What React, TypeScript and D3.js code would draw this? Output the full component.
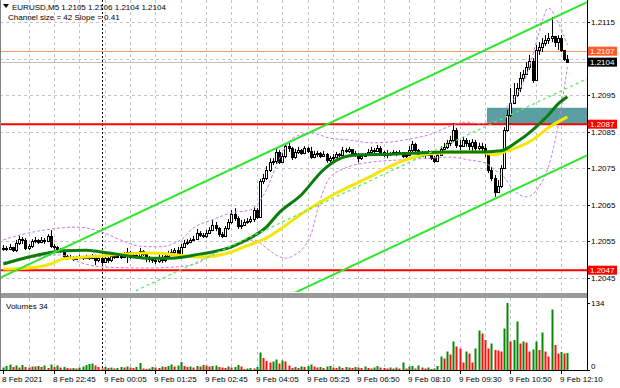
import React from 'react';
import * as d3 from 'd3';

// EURUSD M5, bar 0 = 8 Feb 21:25
const firstOpen = 1.20528;

const closes = [
  1.20531, 1.20528, 1.20534, 1.20525, 1.20544, 1.20555, 1.20553, 1.20531, 1.20536, 1.20550,
  1.20553, 1.20547, 1.20553, 1.20550, 1.20564, 1.20536, 1.20534, 1.20528, 1.20523, 1.20509,
  1.20503, 1.20506, 1.20501, 1.20503, 1.20506, 1.20503, 1.20506, 1.20503, 1.20509, 1.20498,
  1.20503, 1.20492, 1.20503, 1.20498, 1.20509, 1.20506, 1.20509, 1.20506, 1.20512, 1.20520,
  1.20506, 1.20512, 1.20509, 1.20523, 1.20514, 1.20503, 1.20501, 1.20498, 1.20495, 1.20506,
  1.20498, 1.20509, 1.20514, 1.20520, 1.20525, 1.20514, 1.20534, 1.20544, 1.20547, 1.20553,
  1.20555, 1.20572, 1.20566, 1.20564, 1.20572, 1.20580, 1.20594, 1.20586, 1.20569, 1.20564,
  1.20586, 1.20602, 1.20624, 1.20613, 1.20591, 1.20594, 1.20602, 1.20605, 1.20610, 1.20635,
  1.20616, 1.20714, 1.20723, 1.20745, 1.20766, 1.20769, 1.20794, 1.20766, 1.20783, 1.20810,
  1.20805, 1.20780, 1.20794, 1.20799, 1.20791, 1.20805, 1.20797, 1.20780, 1.20788, 1.20791,
  1.20783, 1.20788, 1.20772, 1.20777, 1.20780, 1.20788, 1.20786, 1.20799, 1.20797, 1.20802,
  1.20791, 1.20788, 1.20777, 1.20783, 1.20786, 1.20794, 1.20799, 1.20797, 1.20805, 1.20794,
  1.20786, 1.20791, 1.20788, 1.20794, 1.20788, 1.20794, 1.20783, 1.20786, 1.20799, 1.20816,
  1.20799, 1.20783, 1.20791, 1.20786, 1.20794, 1.20777, 1.20769, 1.20786, 1.20802, 1.20808,
  1.20819, 1.20827, 1.20854, 1.20813, 1.20810, 1.20827, 1.20819, 1.20810, 1.20821, 1.20805,
  1.20810, 1.20805, 1.20794, 1.20745, 1.20723, 1.20684, 1.20701, 1.20750, 1.20854, 1.20895,
  1.20928, 1.20950, 1.20969, 1.20997, 1.21008, 1.21027, 1.21043, 1.20991, 1.21073, 1.21082,
  1.21092, 1.21101, 1.21106, 1.21112, 1.21095, 1.21106, 1.21073, 1.21050, 1.21040
];

const highs = [
  1.20539, 1.20536, 1.20542, 1.20534, 1.20553, 1.20564, 1.20561, 1.20558, 1.20542, 1.20555,
  1.20561, 1.20555, 1.20561, 1.20558, 1.20569, 1.20580, 1.20542, 1.20536, 1.20531, 1.20525,
  1.20512, 1.20512, 1.20509, 1.20509, 1.20512, 1.20509, 1.20512, 1.20509, 1.20514, 1.20512,
  1.20509, 1.20512, 1.20509, 1.20506, 1.20514, 1.20514, 1.20517, 1.20512, 1.20520, 1.20531,
  1.20523, 1.20517, 1.20514, 1.20531, 1.20525, 1.20514, 1.20509, 1.20506, 1.20503, 1.20512,
  1.20512, 1.20517, 1.20523, 1.20528, 1.20531, 1.20534, 1.20542, 1.20553, 1.20555, 1.20558,
  1.20564, 1.20583, 1.20577, 1.20572, 1.20580, 1.20588, 1.20608, 1.20602, 1.20588, 1.20575,
  1.20591, 1.20610, 1.20635, 1.20640, 1.20618, 1.20608, 1.20610, 1.20613, 1.20618, 1.20643,
  1.20640, 1.20720, 1.20734, 1.20755, 1.20777, 1.20777, 1.20805, 1.20799, 1.20791, 1.20816,
  1.20821, 1.20808, 1.20802, 1.20808, 1.20802, 1.20810, 1.20808, 1.20808, 1.20797, 1.20797,
  1.20794, 1.20797, 1.20791, 1.20783, 1.20788, 1.20794, 1.20791, 1.20808, 1.20805, 1.20808,
  1.20799, 1.20797, 1.20791, 1.20788, 1.20791, 1.20802, 1.20808, 1.20805, 1.20813, 1.20810,
  1.20797, 1.20799, 1.20794, 1.20799, 1.20797, 1.20799, 1.20794, 1.20794, 1.20810, 1.20824,
  1.20819, 1.20802, 1.20797, 1.20794, 1.20799, 1.20797, 1.20783, 1.20794, 1.20810, 1.20819,
  1.20827, 1.20838, 1.20873, 1.20860, 1.20827, 1.20835, 1.20832, 1.20827, 1.20829, 1.20827,
  1.20819, 1.20819, 1.20816, 1.20794, 1.20753, 1.20731, 1.20717, 1.20758, 1.20862, 1.20909,
  1.20969, 1.20983, 1.20983, 1.21013, 1.21019, 1.21040, 1.21060, 1.21051, 1.21087, 1.21095,
  1.21106, 1.21114, 1.21120, 1.21164, 1.21112, 1.21114, 1.21114, 1.21073, 1.21060
];

const lows = [
  1.20523, 1.20523, 1.20525, 1.20520, 1.20520, 1.20539, 1.20542, 1.20525, 1.20525, 1.20531,
  1.20544, 1.20542, 1.20544, 1.20542, 1.20547, 1.20531, 1.20525, 1.20523, 1.20517, 1.20503,
  1.20498, 1.20501, 1.20495, 1.20498, 1.20501, 1.20498, 1.20501, 1.20498, 1.20501, 1.20484,
  1.20492, 1.20481, 1.20490, 1.20490, 1.20492, 1.20501, 1.20503, 1.20501, 1.20503, 1.20490,
  1.20501, 1.20503, 1.20503, 1.20506, 1.20509, 1.20492, 1.20492, 1.20490, 1.20487, 1.20490,
  1.20490, 1.20492, 1.20503, 1.20509, 1.20512, 1.20506, 1.20503, 1.20536, 1.20539, 1.20544,
  1.20550, 1.20553, 1.20561, 1.20558, 1.20558, 1.20569, 1.20577, 1.20577, 1.20561, 1.20558,
  1.20561, 1.20580, 1.20597, 1.20605, 1.20583, 1.20583, 1.20591, 1.20597, 1.20599, 1.20602,
  1.20610, 1.20613, 1.20706, 1.20717, 1.20739, 1.20758, 1.20761, 1.20761, 1.20764, 1.20777,
  1.20794, 1.20772, 1.20775, 1.20788, 1.20786, 1.20788, 1.20791, 1.20775, 1.20777, 1.20780,
  1.20777, 1.20780, 1.20764, 1.20764, 1.20769, 1.20777, 1.20780, 1.20783, 1.20791, 1.20791,
  1.20786, 1.20780, 1.20766, 1.20772, 1.20780, 1.20783, 1.20791, 1.20791, 1.20794, 1.20786,
  1.20780, 1.20777, 1.20783, 1.20786, 1.20783, 1.20788, 1.20777, 1.20777, 1.20786, 1.20791,
  1.20791, 1.20777, 1.20780, 1.20777, 1.20783, 1.20772, 1.20764, 1.20766, 1.20783, 1.20799,
  1.20802, 1.20810, 1.20821, 1.20805, 1.20799, 1.20808, 1.20808, 1.20799, 1.20794, 1.20794,
  1.20799, 1.20797, 1.20780, 1.20736, 1.20714, 1.20671, 1.20690, 1.20695, 1.20747, 1.20849,
  1.20890, 1.20925, 1.20945, 1.20958, 1.20986, 1.21005, 1.21019, 1.20983, 1.20991, 1.21060,
  1.21068, 1.21084, 1.21090, 1.21095, 1.21082, 1.21073, 1.21068, 1.21043, 1.21040
];

const volumes = [
  5, 8, 11, 6, 9, 5, 10, 6, 5, 7, 7, 8, 6, 9, 4, 11, 6, 9, 5, 6, 4, 3, 4, 3, 5, 7, 10, 12, 13, 9, 6,
  3, 6, 4, 5, 3, 4, 6, 5, 7,
  5, 4, 6, 14, 3, 2, 3, 6, 5, 4, 7, 6, 8, 11, 7, 9, 16, 8, 6, 7, 5,
  8, 7, 10, 9, 7, 8, 9, 6, 5, 4, 7, 5, 6, 10, 7, 2, 3, 4, 3, 6,
  35, 24, 18, 15, 17, 21, 13, 19, 17, 9, 4, 6, 4, 7, 6, 8, 11,
  7, 5, 6, 4, 7, 8, 5, 4, 7, 4, 6, 5, 4, 6, 5, 4, 7, 4, 3, 5, 8, 5,
  4, 3, 5, 3, 5, 3, 15, 3, 7, 8, 3, 9, 5, 3, 5, 2, 3, 8,
  27, 23, 37, 31, 57, 47, 43, 15, 37, 33, 15, 43, 79, 73, 60, 43, 53, 40, 39, 37,
  83, 134, 57, 60, 97, 53, 57, 55, 37, 41, 57, 40, 75, 37, 27, 121, 50, 33, 36, 33, 34
];

const timeLabels = [
  '8 Feb 2021', '8 Feb 22:45', '9 Feb 00:05', '9 Feb 01:25', '9 Feb 02:45', '9 Feb 04:05',
  '9 Feb 05:25', '9 Feb 06:50', '9 Feb 08:10', '9 Feb 09:30', '9 Feb 10:50', '9 Feb 12:10'
];
const timeLabelBars = [0, 16, 32, 48, 64, 80, 96, 112, 128, 144, 160, 176];
const gridBars = d3.range(8, 179, 8);
const daySeparatorBar = 31;

const priceTicks = [1.2045, 1.2055, 1.2065, 1.2075, 1.2085, 1.2095, 1.2105, 1.2115];
const volumeTicks = [0, 134];

// moving averages (bar, price)
const greenMaBars = [0, 8, 19, 26, 31, 37, 45, 53, 62, 66, 72, 76, 83, 87, 94, 101, 106, 112, 122, 131, 139, 152, 157, 162, 167, 172, 175, 178];
const greenMaPrices = [1.20487, 1.20506, 1.20523, 1.20525, 1.20520, 1.20512, 1.20503, 1.20503, 1.20514, 1.20520, 1.20534, 1.20550, 1.20588, 1.20627, 1.20676, 1.20745, 1.20775, 1.20786, 1.20788, 1.20791, 1.20794, 1.20794, 1.20797, 1.20821, 1.20854, 1.20895, 1.20925, 1.20945];

const yellowMaBars = [0, 8, 15, 19, 31, 45, 53, 62, 72, 76, 83, 87, 94, 104, 115, 125, 131, 138, 150, 155, 158, 167, 172, 178];
const yellowMaPrices = [1.20473, 1.20476, 1.20487, 1.20501, 1.20509, 1.20517, 1.20514, 1.20506, 1.20520, 1.20534, 1.20558, 1.20580, 1.20624, 1.20676, 1.20723, 1.20766, 1.20783, 1.20791, 1.20794, 1.20786, 1.20794, 1.20827, 1.20860, 1.20890];

const bandUpperBars = [0, 5, 13, 23, 31, 37, 43, 49, 56, 60, 66, 72, 78, 80, 83, 86, 89, 92, 97, 103, 109, 116, 122, 128, 135, 141, 146, 150, 155, 158, 162, 166, 169, 172, 175, 178];
const bandUpperPrices = [1.20553, 1.20566, 1.20580, 1.20588, 1.20575, 1.20553, 1.20536, 1.20534, 1.20553, 1.20586, 1.20608, 1.20627, 1.20635, 1.20649, 1.20690, 1.20753, 1.20808, 1.20835, 1.20846, 1.20832, 1.20827, 1.20819, 1.20821, 1.20829, 1.20843, 1.20865, 1.20876, 1.20871, 1.20881, 1.20909, 1.20950, 1.21027, 1.21120, 1.21188, 1.21150, 1.21087];

const bandLowerBars = [0, 8, 18, 24, 31, 46, 57, 62, 66, 74, 79, 83, 86, 89, 92, 97, 100, 103, 108, 116, 125, 135, 141, 147, 152, 155, 158, 161, 165, 169, 172, 175, 178];
const bandLowerPrices = [1.20492, 1.20503, 1.20512, 1.20492, 1.20479, 1.20476, 1.20481, 1.20492, 1.20517, 1.20539, 1.20553, 1.20531, 1.20512, 1.20503, 1.20512, 1.20566, 1.20662, 1.20723, 1.20750, 1.20766, 1.20772, 1.20777, 1.20780, 1.20772, 1.20764, 1.20745, 1.20725, 1.20690, 1.20671, 1.20698, 1.20753, 1.20862, 1.21027];

// equidistant channel: upper line anchors, channel size 42 pips
const channelBars = [0, 178];
const channelTopPrices = [1.20453, 1.21179];
const channelSize = 0.0042;

const redLevels = [1.2087, 1.2047];
const askLevel = 1.2107;
const bidLevel = 1.2104;
const zoneBars = [152.6, 186];
const zonePrices = [1.20868, 1.20915];

export default function App() {
  const W = 620, H = 388;
  const plotR = 587;
  const mainB = 292;
  const volT = 298, volB = 370;

  const x = d3.scaleLinear().domain([0, 178]).range([3.3, 567.4]);
  const y = d3.scaleLinear().domain([1.2115, 1.2045]).range([22, 277.5]);
  const yv = d3.scaleLinear().domain([0, 134]).range([volB, 303]);

  const bars = closes.map((c, i) => {
    const o = i === 0 ? firstOpen : closes[i - 1];
    return { i, o, c, h: Math.max(highs[i], o, c), l: Math.min(lows[i], o, c) };
  });

  const curve = d3.line<[number, number]>()
    .x(d => x(d[0]))
    .y(d => y(d[1]))
    .curve(d3.curveMonotoneX);

  const pts = (b: number[], p: number[]) => b.map((v, k) => [v, p[k]] as [number, number]);

  const slope = (channelTopPrices[1] - channelTopPrices[0]) / (channelBars[1] - channelBars[0]);
  const bLeft = x.invert(0), bRight = x.invert(plotR);
  const chan = (off: number) => {
    const p = (b: number) => channelTopPrices[0] + slope * (b - channelBars[0]) - off;
    return { x1: x(bLeft), y1: y(p(bLeft)), x2: x(bRight), y2: y(p(bRight)) };
  };
  const cTop = chan(0), cMid = chan(channelSize / 2), cBot = chan(channelSize);

  const font = 'Liberation Sans, Arial, sans-serif';
  const cx = (i: number) => Math.round(x(i)) + 0.5;

  const boxes = [
    { p: askLevel, bg: '#ff5a28' },
    { p: bidLevel, bg: '#000000' },
    { p: redLevels[0], bg: '#ff0000' },
    { p: redLevels[1], bg: '#ff0000' }
  ];

  // axis labels that run into a level box: pushed below it, or hidden when squeezed
  const tickLabels = priceTicks.map(t => {
    const ty = y(t);
    const near = boxes.filter(b => Math.abs(y(b.p) - ty) < 9);
    if (near.length === 0) return { t, ty: ty + 3, show: true };
    if (near.length === 1 && y(near[0].p) < ty - 4) return { t, ty: y(near[0].p) + 4.5 + 6.5, show: true };
    return { t, ty, show: false };
  });

  return (
    <div style={{ position: 'fixed', left: 0, top: 0 }}>
      <svg width={W} height={H} style={{ display: 'block', background: '#fff' }} fontFamily={font}>
        <defs>
          <clipPath id="mainClip"><rect x={0} y={0} width={plotR} height={mainB} /></clipPath>
        </defs>

        {/* grid */}
        <g stroke="#c4c4c4" strokeDasharray="3,3" strokeWidth={1}>
          {priceTicks.map(t => (
            <line key={'h' + t} x1={0} x2={plotR} y1={Math.round(y(t)) + 0.5} y2={Math.round(y(t)) + 0.5} />
          ))}
          {gridBars.map(b => (
            <g key={'v' + b}>
              <line x1={cx(b)} x2={cx(b)} y1={0} y2={mainB} />
              <line x1={cx(b)} x2={cx(b)} y1={volT} y2={volB} />
            </g>
          ))}
        </g>
        <g stroke="#000" strokeDasharray="2,2">
          <line x1={cx(daySeparatorBar)} x2={cx(daySeparatorBar)} y1={0} y2={mainB} />
          <line x1={cx(daySeparatorBar)} x2={cx(daySeparatorBar)} y1={volT} y2={volB} />
        </g>

        <g clipPath="url(#mainClip)">
          {/* zone */}
          <rect x={x(zoneBars[0])} y={y(zonePrices[1])} width={x(zoneBars[1]) - x(zoneBars[0])}
            height={y(zonePrices[0]) - y(zonePrices[1])} fill="#5a9ea2" />

          {/* levels */}
          {redLevels.map(p => (
            <line key={'r' + p} x1={0} x2={plotR} y1={y(p)} y2={y(p)} stroke="#ff0000" strokeWidth={2} />
          ))}
          <line x1={0} x2={plotR} y1={Math.round(y(askLevel)) + 0.5} y2={Math.round(y(askLevel)) + 0.5} stroke="#f39a70" />
          <line x1={0} x2={plotR} y1={Math.round(y(bidLevel)) + 0.5} y2={Math.round(y(bidLevel)) + 0.5} stroke="#c0c0c0" />

          {/* candles */}
          {bars.map(d => {
            const xc = cx(d.i);
            const top = Math.round(y(Math.max(d.o, d.c)));
            const bot = Math.round(y(Math.min(d.o, d.c)));
            const up = d.c > d.o;
            return (
              <g key={'c' + d.i}>
                <line x1={xc} x2={xc} y1={y(d.h)} y2={y(d.l)} stroke="#000" strokeWidth={1} />
                {bot - top < 1
                  ? <line x1={xc - 1.5} x2={xc + 1.5} y1={top + 0.5} y2={top + 0.5} stroke="#000" />
                  : <rect x={xc - 1} y={top + 0.5} width={2} height={bot - top} fill={up ? '#fff' : '#000'} stroke="#000" strokeWidth={1} />}
              </g>
            );
          })}

          {/* indicators */}
          <path d={curve(pts(bandUpperBars, bandUpperPrices)) || ''} fill="none" stroke="#c27ee6" strokeWidth={1} strokeDasharray="3,2" />
          <path d={curve(pts(bandLowerBars, bandLowerPrices)) || ''} fill="none" stroke="#c27ee6" strokeWidth={1} strokeDasharray="3,2" />
          <path d={curve(pts(yellowMaBars, yellowMaPrices)) || ''} fill="none" stroke="#f4e60c" strokeWidth={3} />
          <path d={curve(pts(greenMaBars, greenMaPrices)) || ''} fill="none" stroke="#0b7d0b" strokeWidth={3} />

          {/* channel */}
          <line {...cTop} stroke="#2fe62f" strokeWidth={2} />
          <line {...cMid} stroke="#62ea62" strokeWidth={1.3} strokeDasharray="3,3" />
          <line {...cBot} stroke="#2fe62f" strokeWidth={2} />
        </g>

        {/* header */}
        <path d="M3,4 L9,4 L6,8 Z" fill="#000" />
        <text x={12} y={10} fontSize={8} fill="#000">{'EURUSD,M5  1.2105 1.2106 1.2104 1.2104'}</text>
        <text x={8} y={19.5} fontSize={8} fill="#000">{'Channel size = 42 Slope = 0.41'}</text>

        {/* volumes */}
        {volumes.map((v, i) => {
          const prev = i === 0 ? 0 : volumes[i - 1];
          const xc = Math.round(x(i));
          return (
            <rect key={'vol' + i} x={xc - 0.5} y={yv(v)} width={2} height={volB - yv(v)}
              fill={v > prev ? '#068a06' : '#ff1010'} />
          );
        })}
        <text x={6} y={309} fontSize={8} fill="#000">{'Volumes ' + volumes[volumes.length - 1]}</text>

        {/* frames */}
        <rect x={0} y={mainB + 1} width={plotR + 1} height={volT - mainB - 1} fill="#9a9a9a" />
        <line x1={0.5} x2={0.5} y1={0} y2={volB} stroke="#808080" />
        <line x1={0} x2={plotR} y1={volB + 0.5} y2={volB + 0.5} stroke="#000" />
        <line x1={plotR + 0.5} x2={plotR + 0.5} y1={0} y2={volB + 1} stroke="#000" />

        {/* price axis */}
        {tickLabels.map(d => (
          <g key={'pt' + d.t}>
            <line x1={plotR} x2={plotR + 3} y1={Math.round(y(d.t)) + 0.5} y2={Math.round(y(d.t)) + 0.5} stroke="#000" />
            {d.show && <text x={591} y={d.ty} fontSize={8} fill="#000">{d.t.toFixed(4)}</text>}
          </g>
        ))}
        {boxes.map(b => (
          <g key={'bx' + b.p}>
            <rect x={588} y={y(b.p) - 4.5} width={29} height={9} fill={b.bg} />
            <text x={590} y={y(b.p) + 3} fontSize={8} fill="#fff">{b.p.toFixed(4)}</text>
          </g>
        ))}

        {/* volume axis */}
        {volumeTicks.map(t => (
          <g key={'vt' + t}>
            <line x1={plotR} x2={plotR + 3} y1={Math.round(yv(t)) + 0.5} y2={Math.round(yv(t)) + 0.5} stroke="#000" />
            <text x={591} y={t === 0 ? yv(t) - 1 : yv(t) + 3} fontSize={8} fill="#000">{t}</text>
          </g>
        ))}

        {/* time axis */}
        {timeLabelBars.map((b, k) => (
          <g key={'tl' + b}>
            <line x1={cx(b)} x2={cx(b)} y1={volB} y2={volB + 4} stroke="#000" />
            <text x={cx(b) - 1.5} y={382} fontSize={8} fill="#000">{timeLabels[k]}</text>
          </g>
        ))}
      </svg>
    </div>
  );
}
